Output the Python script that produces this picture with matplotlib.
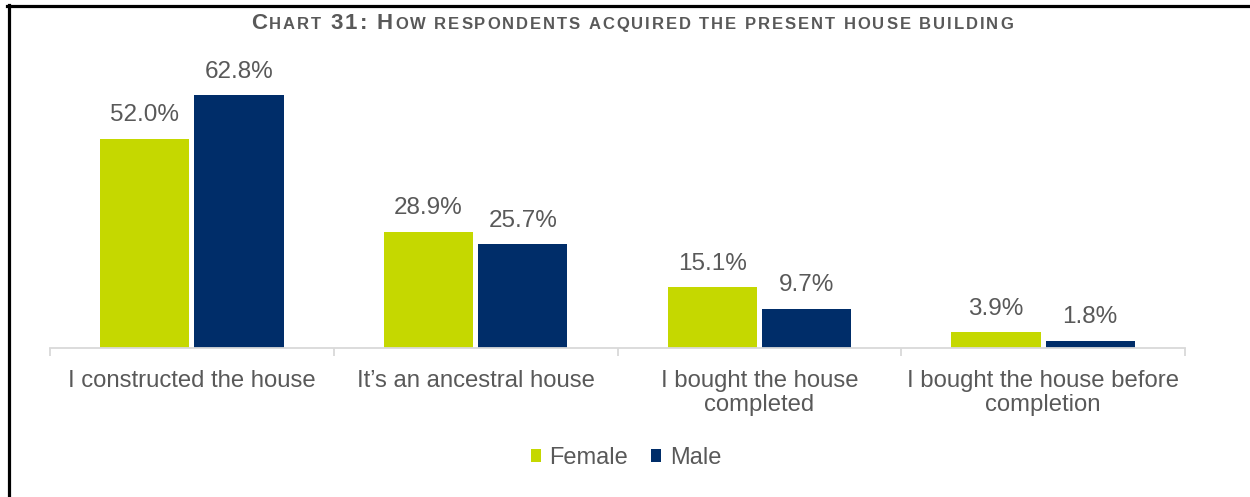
import matplotlib.pyplot as plt
import matplotlib as mpl
import numpy as np
from matplotlib.lines import Line2D

mpl.rcParams.update({"font.family": ["Liberation Sans", "DejaVu Sans"]})

categories = ["I constructed the house", "It\u2019s an ancestral house",
              "I bought the house\ncompleted", "I bought the house before\ncompletion"]
female = [52.0, 28.9, 15.1, 3.9]
male = [62.8, 25.7, 9.7, 1.8]
series = ["Female", "Male"]

C_F = "#C5D800"
C_M = "#002D69"
TXT = "#595959"

fig = plt.figure(figsize=(12.5, 4.97), dpi=100)
ax = fig.add_axes([50 / 1250, 149 / 497, 1135 / 1250, 282 / 497])

x = np.arange(len(categories))
off, w = 0.166, 0.315
bf = ax.bar(x - off, female, w, color=C_F, label=series[0])
bm = ax.bar(x + off, male, w, color=C_M, label=series[1])
for bars, vals in ((bf, female), (bm, male)):
    for b, v in zip(bars, vals):
        ax.annotate(f"{v:.1f}%", (b.get_x() + b.get_width() / 2, v), xytext=(0, 9),
                    textcoords="offset points", ha="center", va="bottom", fontsize=17.5, color=TXT)

ax.set_xlim(-0.5, 3.5)
ax.set_ylim(0, 70)
ax.set_yticks([])
for s in ("top", "right", "left"):
    ax.spines[s].set_visible(False)
ax.spines["bottom"].set_color("#D9D9D9")
ax.spines["bottom"].set_linewidth(1.3)
ax.set_xticks(x)
ax.set_xticklabels(categories, fontsize=17.2, color=TXT, linespacing=1.08, va="top")
ax.tick_params(axis="x", which="major", length=0, pad=16)
ax.set_xticks(np.arange(-0.5, 4, 1), minor=True)
ax.tick_params(axis="x", which="minor", length=6, color="#D9D9D9", width=1.3)

leg = fig.legend(handles=[bf, bm], labels=series, loc="center", bbox_to_anchor=(626 / 1250, 1 - 458 / 497),
                 ncol=2, frameon=False, fontsize=17, handlelength=0.42, handleheight=0.42,
                 handletextpad=0.35, columnspacing=1.0, labelcolor=TXT)

# frame lines (left and top)
fig.add_artist(Line2D([8.5 / 1250, 8.5 / 1250], [0, 1 - 5 / 497], color="black", lw=2.3, transform=fig.transFigure))
fig.add_artist(Line2D([7 / 1250, 1], [1 - 6 / 497, 1 - 6 / 497], color="black", lw=2.3, transform=fig.transFigure))

# small-caps title, drawn letter by letter with a little tracking
parts = [("C", 16), ("HART", 12), (" 31: H", 16), ("OW RESPONDENTS ACQUIRED THE PRESENT HOUSE BUILDING", 12)]
ty = 1 - 29 / 497
track = 1.95
r = fig.canvas.get_renderer()
chars = []
for s, fs in parts:
    for ch in s:
        t = fig.text(0, ty, ch, fontsize=fs, fontweight="bold", color=TXT, ha="left", va="baseline")
        wd = t.get_window_extent(r).width if ch != " " else fs * 0.278 * 100 / 72
        chars.append((t, wd))
total = sum(wd for _, wd in chars) + track * (len(chars) - 1)
xp = 632 - total / 2
for t, wd in chars:
    t.set_x(xp / 1250)
    xp += wd + track

fig.savefig("out.png", dpi=100)
